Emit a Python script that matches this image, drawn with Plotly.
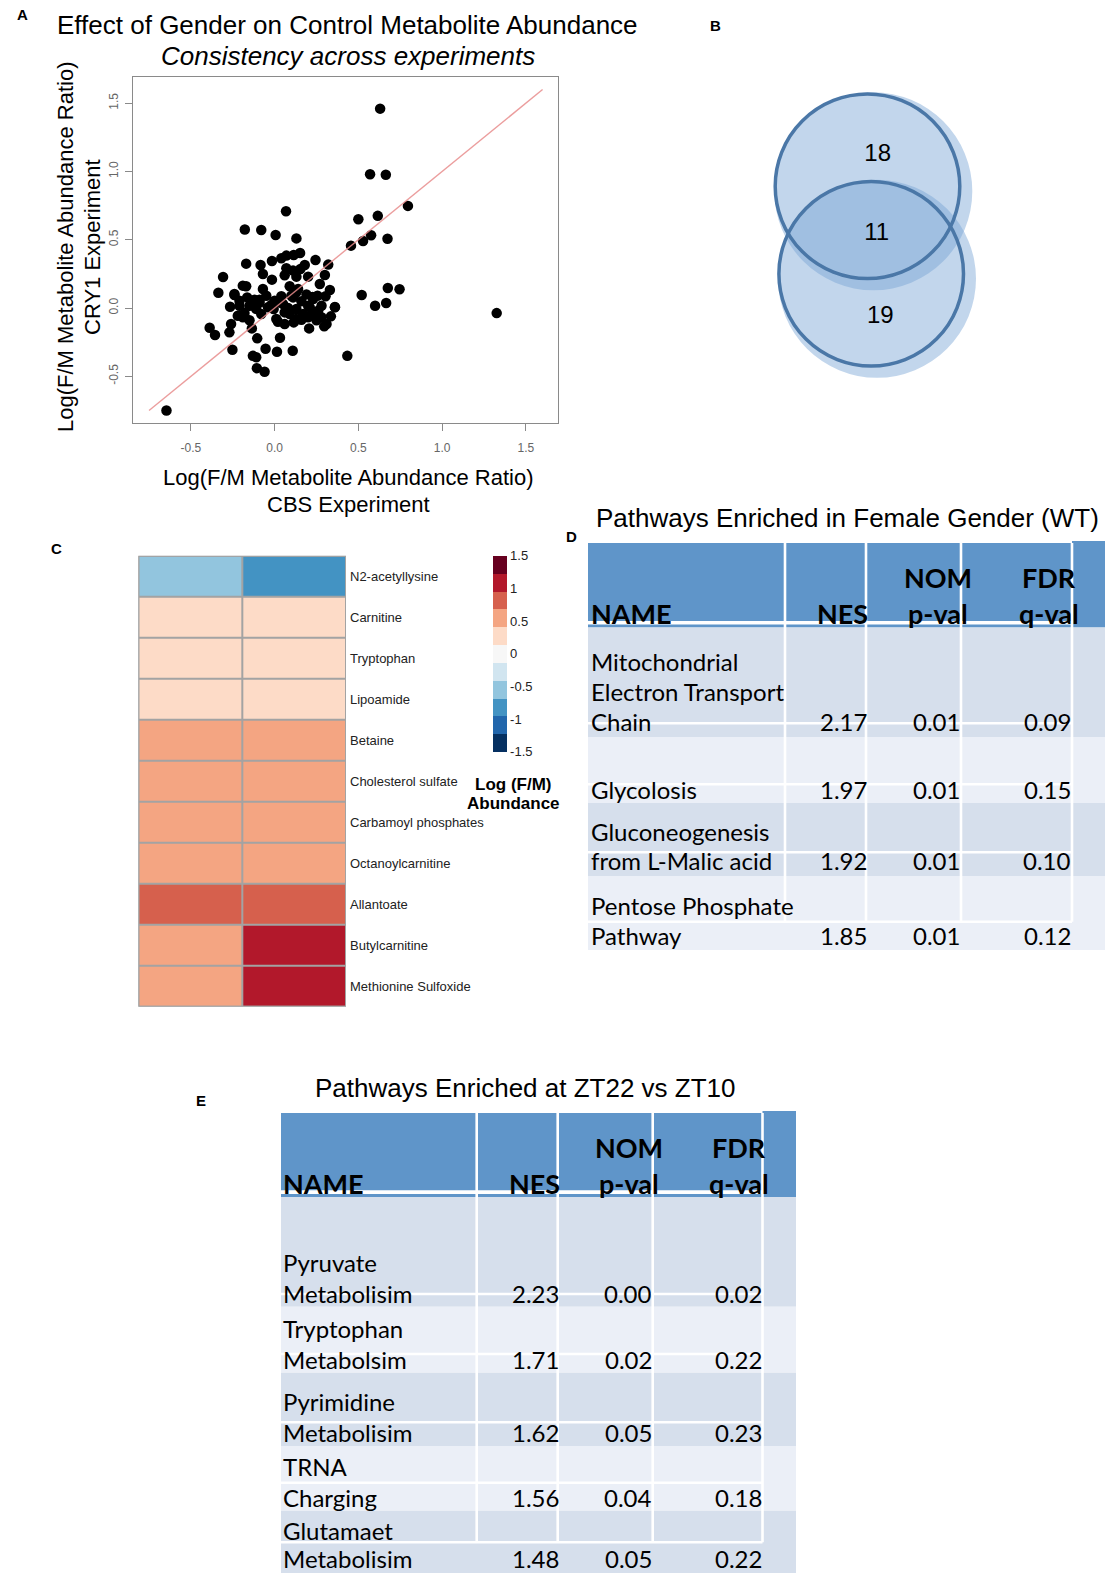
import plotly.graph_objects as go

W, H = 1105, 1573

# ---------------- DATA ----------------
# Panel A: log(F/M) ratios, CBS experiment (x) vs CRY1 experiment (y)
cbs_x = [
    -0.646, 0.63, 0.57, 0.664, 0.796, 0.068, 0.50, 0.616, -0.178, -0.08, 0.006, 0.13, 0.674, 0.576,
    0.528, 0.456, 0.32, 0.244, -0.17, -0.308, -0.336, 1.326, 0.52, 0.60, 0.666, 0.676, 0.746, 0.434,
    -0.388, -0.356, -0.252, -0.13, -0.11, -0.106, -0.06, -0.054, 0.014, 0.108, 0.032, -0.136, -0.104,
    0.04, 0.07, 0.114, 0.152, -0.016, -0.084, 0.07, 0.11, 0.154, 0.18, -0.07, 0.30,
    -0.016, 0.20, -0.19, -0.17, -0.07, 0.27, 0.33,
    -0.24, -0.164, -0.12, -0.09, -0.05, 0.04, 0.10, 0.13, 0.226, 0.256, 0.304,
    -0.266, -0.21, -0.15, -0.11, -0.02, -0.006, 0.03, 0.13, 0.20, 0.28, 0.36,
    -0.22, -0.18, -0.08, -0.04, 0.01, 0.06, 0.06, 0.114, 0.16, 0.226, 0.26, 0.336, 0.296, 0.206,
    -0.26, -0.27,
    0.0, 0.05, 0.11, 0.14, 0.09, 0.13, 0.17, 0.21, 0.20, 0.23, 0.28, 0.31, 0.36,
    -0.24, -0.21, -0.09, -0.19, 0.06, 0.13,
    0.08, 0.16, 0.02, -0.13, 0.19, 0.25, -0.15, 0.09,
]
cry1_y = [
    -0.75, 1.46, 0.98, 0.976, 0.748, 0.709, 0.65, 0.675, 0.575, 0.572, 0.535, 0.51, 0.508, 0.533,
    0.491, 0.457, 0.318, 0.352, 0.325, 0.227, 0.112, -0.037, 0.095, 0.017, 0.037, 0.147, 0.137, -0.35,
    -0.144, -0.198, -0.306, -0.35, -0.36, -0.44, -0.467, -0.298, -0.32, -0.313, -0.218, -0.149, -0.222,
    0.364, 0.384, 0.389, 0.403, 0.345, 0.315, 0.291, 0.274, 0.286, 0.315, 0.249, 0.242,
    0.208, 0.23, 0.164, 0.159, 0.139, 0.176, 0.132,
    0.103, 0.078, 0.061, 0.061, 0.09, 0.086, 0.09, 0.115, 0.081, 0.09, 0.086,
    0.01, 0.017, 0.017, -0.007, 0.022, -0.007, 0.042, -0.007, 0.017, 0.017, 0.007,
    -0.056, -0.037, -0.044, 0.005, -0.08, -0.032, -0.117, -0.105, -0.086, -0.032, -0.02, -0.061, -0.134, -0.149,
    -0.117, -0.178,
    0.054, 0.03, 0.078, 0.14, -0.044, -0.08, -0.044, 0.005, -0.068, 0.066, -0.068, -0.117, 0.005,
    0.096, 0.054, 0.041, -0.068, 0.24, 0.23,
    0.0, 0.05, -0.1, 0.03, 0.1, -0.09, -0.09, 0.16,
]
identity_line_x = [-0.75, 1.6]
axis_tickvals = [-0.5, 0.0, 0.5, 1.0, 1.5]
axis_ticktext = ["-0.5", "0.0", "0.5", "1.0", "1.5"]

# Panel B: Venn counts (top only, overlap, bottom only)
venn_counts = [18, 11, 19]

# Panel C: heatmap
metabolites = ["N2-acetyllysine", "Carnitine", "Tryptophan", "Lipoamide", "Betaine",
               "Cholesterol sulfate", "Carbamoyl phosphates", "Octanoylcarnitine",
               "Allantoate", "Butylcarnitine", "Methionine Sulfoxide"]
heat_col1 = [-0.55, 0.3, 0.3, 0.3, 0.55, 0.55, 0.55, 0.55, 0.8, 0.55, 0.55]
heat_col2 = [-0.8, 0.3, 0.3, 0.3, 0.55, 0.55, 0.55, 0.55, 0.8, 1.1, 1.1]
cbar_tickvals = [-1.5, -1, -0.5, 0, 0.5, 1, 1.5]
cbar_ticktext = ["-1.5", "-1", "-0.5", "0", "0.5", "1", "1.5"]
rdbu11 = ["#053061", "#2166ac", "#4393c3", "#92c5de", "#d1e5f0", "#f7f7f7",
          "#fddbc7", "#f4a582", "#d6604d", "#b2182b", "#67001f"]

# Panel D table
table_header = ["NAME", "NES", "NOM\np-val", "FDR\nq-val"]
d_names = ["Mitochondrial\nElectron Transport\nChain", "Glycolosis",
           "Gluconeogenesis\nfrom L-Malic acid", "Pentose Phosphate\nPathway"]
d_nes = ["2.17", "1.97", "1.92", "1.85"]
d_nom = ["0.01", "0.01", "0.01", "0.01"]
d_fdr = ["0.09", "0.15", "0.10", "0.12"]

# Panel E table
e_names = ["Pyruvate\nMetabolisim", "Tryptophan\nMetabolsim", "Pyrimidine\nMetabolisim",
           "TRNA\nCharging", "Glutamaet\nMetabolisim"]
e_nes = ["2.23", "1.71", "1.62", "1.56", "1.48"]
e_nom = ["0.00", "0.02", "0.05", "0.04", "0.05"]
e_fdr = ["0.02", "0.22", "0.23", "0.18", "0.22"]

# ---------------- STYLE / LAYOUT ----------------
ARIAL = "Liberation Sans, Arial, sans-serif"
CAL = "Lato, Carlito, Calibri, sans-serif"
HEAD_BLUE = "#5f95c9"
DARK = "#d6dfec"
LIGHT = "#ebeff7"


def px(x):
    return x / W


def py(y):
    return 1 - y / H


shapes = []
annotations = []


def txt(x, y, s, size, xanchor="left", yanchor="middle", family=ARIAL, color="black", angle=0):
    annotations.append(dict(x=px(x), y=py(y), xref="paper", yref="paper", text=s, showarrow=False,
                            xanchor=xanchor, yanchor=yanchor, textangle=angle,
                            font=dict(family=family, size=size, color=color)))


def rect(x0, y0, x1, y1, fill, layer="above"):
    shapes.append(dict(type="rect", xref="paper", yref="paper", x0=px(x0), x1=px(x1),
                       y0=py(y1), y1=py(y0), fillcolor=fill, line=dict(width=0), layer=layer))


fig = go.Figure()

# ---------- Panel A: scatter ----------
fig.add_trace(go.Scatter(x=cbs_x, y=cry1_y, mode="markers", xaxis="x", yaxis="y",
                         marker=dict(size=10.5, color="black", line=dict(width=0)),
                         showlegend=False, hoverinfo="skip"))
fig.add_trace(go.Scatter(x=identity_line_x, y=identity_line_x, mode="lines", xaxis="x", yaxis="y",
                         line=dict(color="rgba(232,140,140,0.85)", width=1.4),
                         showlegend=False, hoverinfo="skip"))

axis_common = dict(range=[-0.844, 1.694], showgrid=False, zeroline=False, showline=True, mirror=True,
                   linecolor="#8a8a8a", linewidth=1, ticks="outside", ticklen=7, tickcolor="#8a8a8a",
                   tickvals=axis_tickvals, ticktext=axis_ticktext,
                   tickfont=dict(family=ARIAL, size=12, color="#666666"))
layout_axes = dict(
    xaxis=dict(domain=[px(133.3), px(558.3)], anchor="y", ticklabelstandoff=6, **axis_common),
    yaxis=dict(domain=[py(423.3), py(76.7)], anchor="x", tickangle=-90, ticklabelstandoff=3, **axis_common),
)

txt(15, 15, "<b>A</b>", 15)
txt(347, 25, "Effect of Gender on Control Metabolite Abundance", 26, xanchor="center")
txt(348, 56, "<i>Consistency across experiments</i>", 26, xanchor="center")
txt(348, 478, "Log(F/M Metabolite Abundance Ratio)", 22, xanchor="center")
txt(348, 505, "CBS Experiment", 22, xanchor="center")
txt(65, 247, "Log(F/M Metabolite Abundance Ratio)", 22, xanchor="center", angle=-90)
txt(92, 247, "CRY1 Experiment", 22, xanchor="center", angle=-90)

# ---------- Panel B: Venn ----------
venn_geo = dict(
    fills=[(873.3, 191.3, 99), (877.0, 278.8, 99)],
    outlines=[(867.5, 186.3, 92.3), (871.2, 273.8, 92.3)],
    label_pos=[(877.7, 155), (876.7, 234), (880.3, 316.7)],
)
for cx, cy, r in venn_geo["fills"]:
    shapes.append(dict(type="circle", xref="x3", yref="y3", x0=cx - r, x1=cx + r, y0=cy - r, y1=cy + r,
                       fillcolor="rgba(120,165,212,0.45)", line=dict(width=0), layer="below"))
for cx, cy, r in venn_geo["outlines"]:
    shapes.append(dict(type="circle", xref="x3", yref="y3", x0=cx - r, x1=cx + r, y0=cy - r, y1=cy + r,
                       fillcolor="rgba(0,0,0,0)", line=dict(width=3.5, color="#4a77a7"), layer="below"))
fig.add_trace(go.Scatter(x=[p[0] for p in venn_geo["label_pos"]], y=[p[1] for p in venn_geo["label_pos"]],
                         text=[str(v) for v in venn_counts], mode="text", xaxis="x3", yaxis="y3",
                         textfont=dict(family=ARIAL, size=24, color="black"),
                         showlegend=False, hoverinfo="skip"))
layout_axes["xaxis3"] = dict(domain=[px(700), px(1000)], range=[700, 1000], visible=False, anchor="y3")
layout_axes["yaxis3"] = dict(domain=[py(400), py(60)], range=[400, 60], visible=False, anchor="x3")
txt(715.5, 25, "<b>B</b>", 15, xanchor="center")

# ---------- Panel C: heatmap ----------
colorscale = []
for i, c in enumerate(rdbu11):
    colorscale.append([i / 11, c])
    colorscale.append([(i + 1) / 11, c])

z = [[a, b] for a, b in zip(heat_col1, heat_col2)]
shapes.append(dict(type="rect", xref="x2", yref="y2", x0=-0.5, x1=1.5, y0=-0.5, y1=10.5,
                   fillcolor="#a3a3a3", line=dict(width=0), layer="below"))
fig.add_trace(go.Heatmap(z=z, x=[0, 1], y=list(range(len(metabolites))), xaxis="x2", yaxis="y2",
                         colorscale=colorscale, zmin=-1.5, zmax=1.5, xgap=2, ygap=2,
                         hoverinfo="skip",
                         colorbar=dict(x=px(493.3), xanchor="left", y=py(555.7), yanchor="top",
                                       lenmode="pixels", len=196, thicknessmode="pixels", thickness=14,
                                       xpad=0, ypad=0, outlinewidth=0, ticks="",
                                       tickvals=cbar_tickvals, ticktext=cbar_ticktext,
                                       tickfont=dict(family=ARIAL, size=13, color="#222222"))))
shapes.append(dict(type="rect", xref="x2", yref="y2", x0=-0.5, x1=1.5, y0=-0.5, y1=10.5,
                   fillcolor="rgba(0,0,0,0)", line=dict(width=2, color="#a3a3a3"), layer="above"))
layout_axes["xaxis2"] = dict(domain=[px(138.3), px(346)], range=[-0.5, 1.5], visible=False, anchor="y2")
layout_axes["yaxis2"] = dict(domain=[py(1006.7), py(555.7)], range=[10.5, -0.5], anchor="x2", side="right",
                             tickvals=list(range(len(metabolites))), ticktext=metabolites, ticks="",
                             showline=False, showgrid=False, zeroline=False, ticklabelstandoff=3,
                             tickfont=dict(family=ARIAL, size=13, color="#222222"))
txt(56, 548, "<b>C</b>", 15, xanchor="center")
txt(513, 785, "<b>Log (F/M)</b>", 17, xanchor="center")
txt(513, 803, "<b>Abundance</b>", 17, xanchor="center")


# ---------- Tables D and E ----------
def draw_table(geo, names, nes, nom, fdr):
    c = geo["cols"]
    # header blocks
    rect(c[0], geo["head_top"], c[4], geo["head_end"], HEAD_BLUE)
    rect(c[0], geo["head_end"], c[4], geo["white_end"], "white")
    rect(c[0], geo["white_end"], c[4], geo["body_top"], HEAD_BLUE)
    rect(c[4], geo["extra_top"], c[5], geo["body_top"], HEAD_BLUE)
    # body bands
    rb = geo["row_bounds"]
    for i in range(len(rb) - 1):
        rect(c[0], rb[i], c[5], rb[i + 1], DARK if i % 2 == 0 else LIGHT)
    # white horizontal lines
    for yl in geo["row_lines"]:
        rect(c[0], yl - 1.3, c[4], yl + 1.3, "white")
    # vertical white lines
    for xv in c[1:5]:
        rect(xv - 1.3, geo["head_top"], xv + 1.3, geo["vline_end"], "white")
    # header text
    h1, h2 = geo["head_rows"]
    txt(geo["text_x"], h2, "<b>%s</b>" % table_header[0], 27, family=CAL)
    txt(c[2] + 4, h2, "<b>%s</b>" % table_header[1], 27, xanchor="right", family=CAL)
    for j, col in ((2, 3), (3, 4)):
        top, bot = table_header[j].split("\n")
        xc = c[col] - 23.5
        txt(xc, h1, "<b>%s</b>" % top, 27, xanchor="center", family=CAL)
        txt(xc, h2, "<b>%s</b>" % bot, 27, xanchor="center", family=CAL)
    # body text
    for i, name in enumerate(names):
        lines = name.split("\n")
        centers = geo["line_centers"][i]
        for ln, yc in zip(lines, centers):
            txt(geo["text_x"], yc, ln, 24, family=CAL)
        yv = centers[-1]
        txt(c[2] + 3, yv, nes[i], 24, xanchor="right", family=CAL)
        txt(c[3] + 1, yv, nom[i], 24, xanchor="right", family=CAL)
        txt(c[4] + 1, yv, fdr[i], 24, xanchor="right", family=CAL)


d_geo = dict(cols=[588, 785, 866, 961, 1072, 1105], head_top=543, extra_top=541, head_end=621,
             white_end=624.5, body_top=627.5, row_bounds=[627.5, 737, 803, 876, 950],
             row_lines=[723.3, 784.3, 852.3, 921.7], vline_end=921.7, text_x=588.5,
             line_centers=[[661.7, 691.7, 721.7], [790], [831.7, 860.7], [905, 935]],
             head_rows=(577.8, 613.6))
e_geo = dict(cols=[281, 476.7, 557.7, 652.7, 762.5, 796], head_top=1113, extra_top=1111, head_end=1190.5,
             white_end=1194, body_top=1197, row_bounds=[1197, 1306.7, 1372.7, 1446, 1510.7, 1573],
             row_lines=[1294, 1354, 1422.3, 1482.7, 1542.3], vline_end=1542.3, text_x=280.5,
             line_centers=[[1262.3, 1293.3], [1328.3, 1359.3], [1401.7, 1432.3], [1466, 1497.3],
                           [1530.7, 1558.5]],
             head_rows=(1147.8, 1183.6))

draw_table(d_geo, d_names, d_nes, d_nom, d_fdr)
draw_table(e_geo, e_names, e_nes, e_nom, e_fdr)

txt(847, 518, "Pathways Enriched in Female Gender (WT)", 26, xanchor="center")
txt(571, 536, "<b>D</b>", 15, xanchor="center")
txt(525, 1088, "Pathways Enriched at ZT22 vs ZT10", 26, xanchor="center")
txt(201, 1100, "<b>E</b>", 15, xanchor="center")

fig.update_layout(width=W, height=H, margin=dict(l=0, r=0, t=0, b=0),
                  paper_bgcolor="white", plot_bgcolor="white", showlegend=False,
                  shapes=shapes, annotations=annotations, **layout_axes)

fig.write_html("out.html", config={"displayModeBar": False},
               post_script="document.body.style.margin='0';document.body.style.overflow='hidden';")
